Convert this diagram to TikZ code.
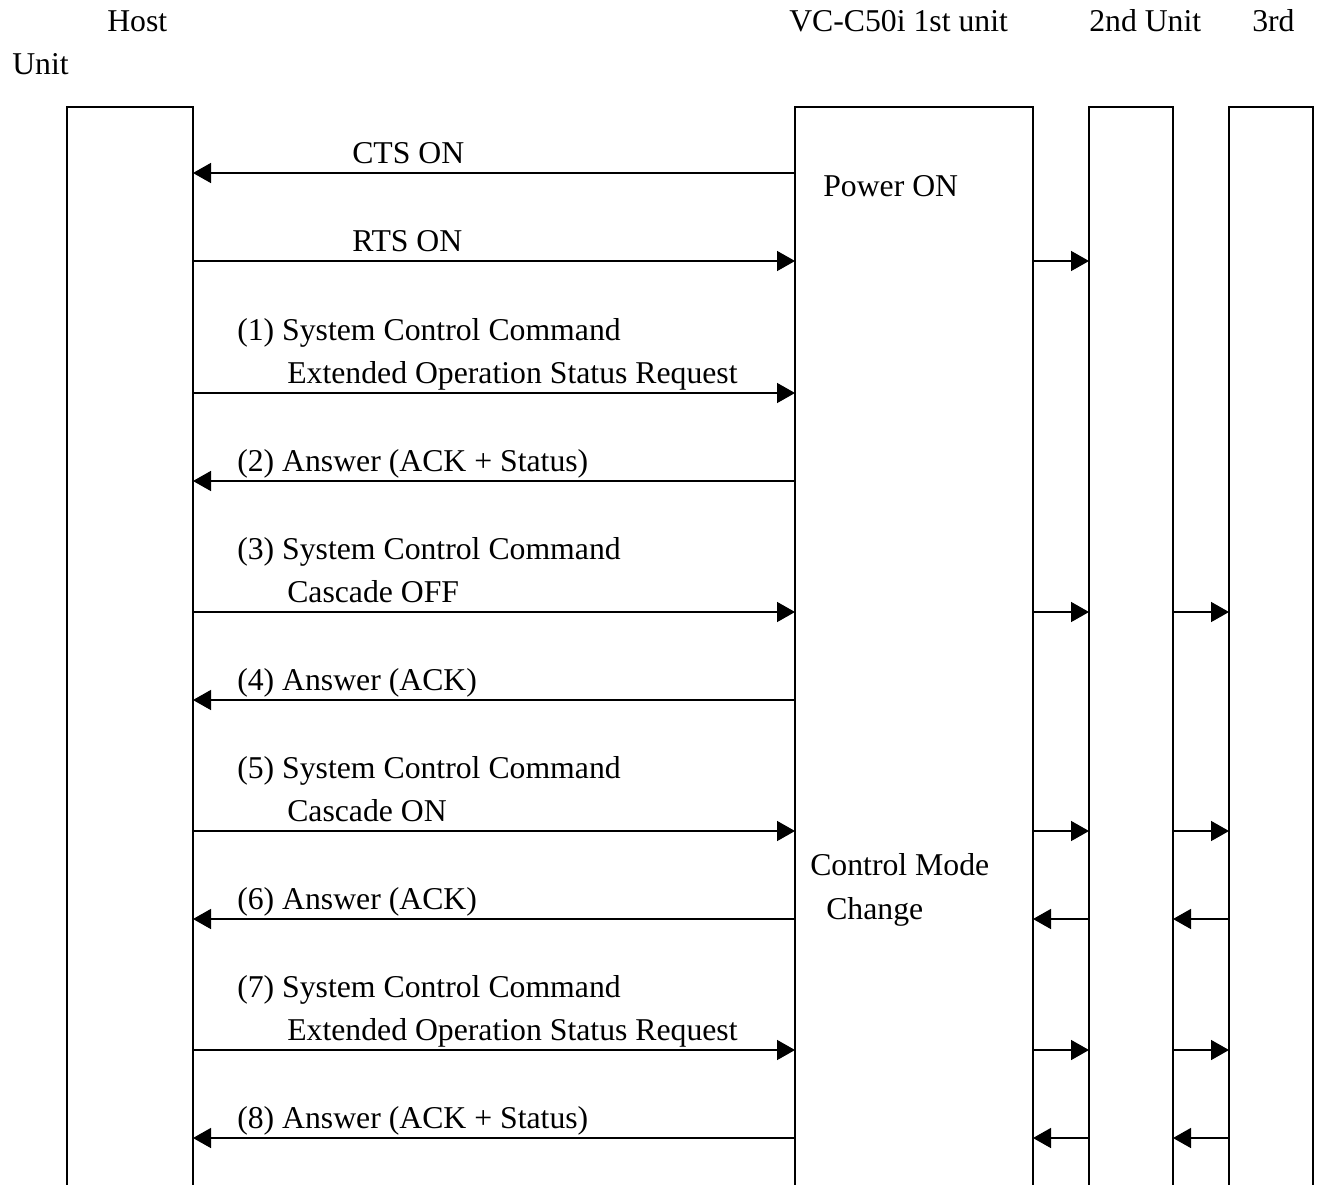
\documentclass[tikz,border=0pt]{standalone}
\usepackage{fontspec}
\setmainfont{Liberation Serif}
\usetikzlibrary{arrows.meta,positioning}
\tikzset{
  >={Triangle[length=13.5pt,width=15pt]},
  msg/.style={->, line width=1.1pt, draw=black},
  unitbox/.style={
    draw,
    line width=1.1pt,
    anchor=north west,
    minimum height=900pt,
    inner sep=0pt,
    outer sep=0pt
  },
  lbl/.style={anchor=base west, inner sep=0pt, font=\fontsize{23.8}{33}\selectfont}
}

\begin{document}
\begin{tikzpicture}[x=0.75pt,y=-0.75pt]
  \useasboundingbox (0,0) rectangle (1319,1184);
  \clip (0,0) rectangle (1319,1184);

  % units
  \node[unitbox,minimum width=94.5pt] (host) at (67,107) {};
  \node[unitbox,minimum width=178.5pt] (first) at (795,107) {};
  \node[unitbox,minimum width=63pt] (second) at (1089,107) {};
  \node[unitbox,minimum width=63pt] (third) at (1229,107) {};

  % titles
  \node[lbl] (hosttitle) at (107,32) {Host};
  \node[lbl] (hostunit) at (12,75) {Unit};
  \node[lbl] (firsttitle) at (789,32) {VC-C50i 1st unit};
  \node[lbl] (secondtitle) at (1089,32) {2nd Unit};
  \node[lbl] (thirdtitle) at (1252,32) {3rd};

  \node[lbl] (power) at (823,196) {Power ON};
  \node[lbl] (mode) at (810,875) {Control Mode};
  \node[lbl] (change) at (826,919) {Change};

  % rows
  \foreach \n/\y in {1/173,2/261,3/393,4/481,5/612,6/700,7/831,8/919,9/1050,10/1138}
    \coordinate (row\n) at (0,\y);

  \foreach \n in {2,3,5,7,9}
    \draw[msg] (host.east |- row\n) -- (first.west |- row\n);
  \foreach \n in {1,4,6,8,10}
    \draw[msg] (first.west |- row\n) -- (host.east |- row\n);

  \foreach \n in {2,5,7,9}
    \draw[msg] (first.east |- row\n) -- (second.west |- row\n);
  \foreach \n in {5,7,9}
    \draw[msg] (second.east |- row\n) -- (third.west |- row\n);
  \foreach \n in {8,10} {
    \draw[msg] (second.west |- row\n) -- (first.east |- row\n);
    \draw[msg] (third.west |- row\n) -- (second.east |- row\n);
  }

  % labels
  \node[lbl] (cts) at (352,163) {CTS ON};
  \node[lbl] (rts) at (352,251) {RTS ON};
  \node[lbl] (cmd1) at (237,340) {(1) System Control Command};
  \node[lbl] (cmd1b) at (287,383) {Extended Operation Status Request};
  \node[lbl] (ans2) at (237,471) {(2) Answer (ACK + Status)};
  \node[lbl] (cmd3) at (237,559) {(3) System Control Command};
  \node[lbl] (cmd3b) at (287,602) {Cascade OFF};
  \node[lbl] (ans4) at (237,690) {(4) Answer (ACK)};
  \node[lbl] (cmd5) at (237,778) {(5) System Control Command};
  \node[lbl] (cmd5b) at (287,821) {Cascade ON};
  \node[lbl] (ans6) at (237,909) {(6) Answer (ACK)};
  \node[lbl] (cmd7) at (237,997) {(7) System Control Command};
  \node[lbl] (cmd7b) at (287,1040) {Extended Operation Status Request};
  \node[lbl] (ans8) at (237,1128) {(8) Answer (ACK + Status)};
\end{tikzpicture}
\end{document}
